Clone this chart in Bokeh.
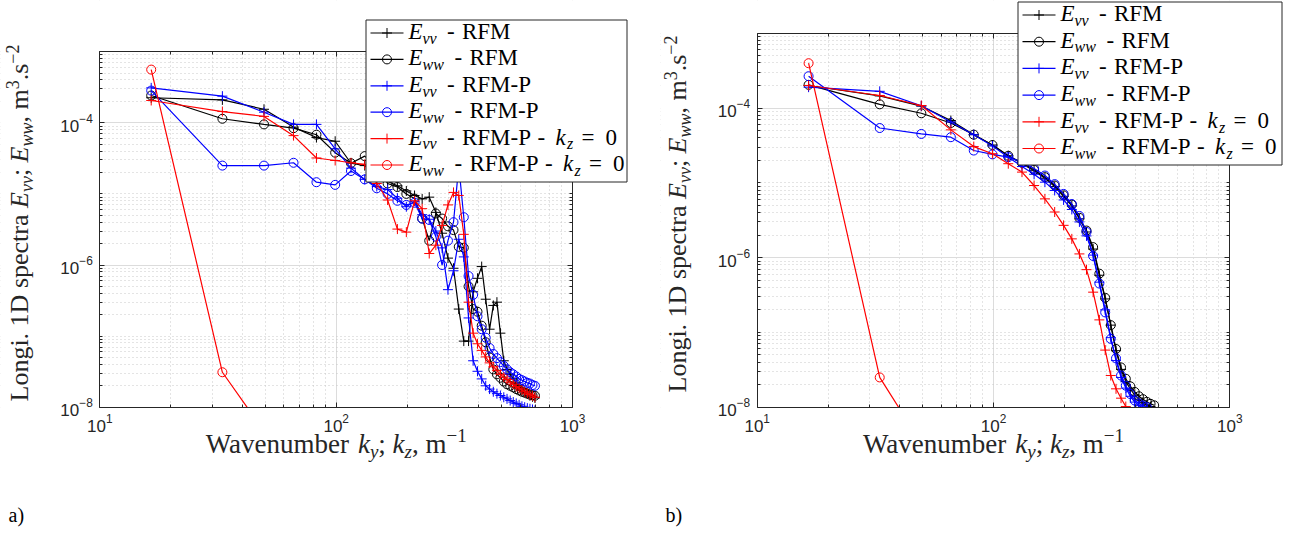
import math
from bokeh.plotting import figure
from bokeh.layouts import row
from bokeh.models import (Range1d, FixedTicker, LogAxis, Label, LinearScale,
                          CustomJSTickFormatter, BoxAnnotation)
from bokeh.embed import file_html
from bokeh.resources import INLINE

# ---------------- data ----------------
# wavenumber grid k (m^-1)
k_a = [16.5, 33.0, 49.5, 66.0, 82.5, 99.0, 115.5, 132.0, 148.5, 165.0, 181.5, 198.0,
       214.5, 231.0, 247.5, 264.0, 280.5, 297.0, 313.5, 330.0, 346.5, 363.0, 379.5,
       396.0, 412.5, 429.0, 445.5, 462.0, 478.5, 495.0, 511.5, 528.0, 544.5, 561.0,
       577.5, 594.0, 610.5, 627.0, 643.5, 660.0, 676.5, 693.0]
k_b = [16.5, 33.0, 49.5, 66.0, 82.5, 99.0, 115.5, 132.0, 148.5, 165.0, 181.5, 198.0,
       214.5, 231.0, 247.5, 264.0, 280.5, 297.0, 313.5, 330.0, 346.5, 363.0, 379.5,
       396.0, 412.5, 429.0, 445.5, 462.0, 478.5]

# panel a)
a_evv_rfm = [2.25e-4, 2.1e-4, 1.55e-4, 8.7e-5, 6.2e-5, 5.5e-5, 2.7e-5, 2.5e-5, 2.0e-5, 1.5e-5,
             1.3e-5, 1.1e-5, 9.5e-6, 8.5e-6, 9.0e-6, 5.5e-6, 2.8e-6, 1.25e-6, 9.0e-7, 2.4e-7,
             8.5e-8, 8.5e-8, 4.2e-7, 6.5e-7, 9.5e-7, 3.3e-7, 1.25e-7, 2.7e-7, 3.0e-7, 1.1e-7,
             4.5e-8, 3.4e-8, 2.9e-8, 2.5e-8, 2.2e-8, 2.0e-8, 1.8e-8, 1.65e-8, 1.55e-8, 1.45e-8,
             1.4e-8, 1.35e-8]
a_eww_rfm = [2.42e-4, 1.14e-4, 9.5e-5, 8.4e-5, 6.8e-5, 3.8e-5, 2.7e-5, 3.4e-5, 2.4e-5, 1.4e-5,
             1.25e-5, 1.0e-5, 8.6e-6, 4.5e-6, 2.2e-6, 5.3e-6, 4.5e-6, 3.5e-6, 3.1e-6, 1.8e-6,
             1.75e-6, 5.0e-7, 2.4e-7, 2.2e-7, 1.4e-7, 8.2e-8, 5.0e-8, 3.4e-8, 2.9e-8, 2.6e-8,
             2.3e-8, 2.1e-8, 2.0e-8, 1.9e-8, 1.8e-8, 1.72e-8, 1.65e-8, 1.6e-8, 1.55e-8, 1.5e-8,
             1.47e-8, 1.45e-8]
a_evv_rfmp = [3.1e-4, 2.37e-4, 1.41e-4, 9.5e-5, 9.5e-5, 4.3e-5, 2.3e-5, 1.6e-5, 1.27e-5, 1.15e-5,
              8.7e-6, 6.6e-6, 7.9e-6, 5.1e-6, 4.4e-6, 3.0e-6, 1.74e-6, 4.5e-7, 8.3e-7, 2.3e-6,
              1.3e-6, 1.8e-7, 4.5e-8, 3.2e-8, 2.5e-8, 2.0e-8, 1.8e-8, 1.65e-8, 1.55e-8, 1.46e-8,
              1.38e-8, 1.31e-8, 1.24e-8, 1.18e-8, 1.13e-8, 1.08e-8, 1.03e-8, 1.0e-8, 0.97e-8,
              0.95e-8, 0.93e-8, 0.9e-8]
a_eww_rfmp = [2.84e-4, 2.5e-5, 2.5e-5, 2.74e-5, 1.46e-5, 1.34e-5, 2.1e-5, 1.6e-5, 1.2e-5, 1.0e-5,
              8.0e-6, 7.0e-6, 7.5e-6, 4.5e-6, 4.3e-6, 2.5e-6, 1.0e-6, 2.2e-6, 4.0e-6, 2.5e-5,
              4.7e-6, 7.0e-7, 3.8e-7, 1.9e-7, 1.25e-7, 9.5e-8, 6.8e-8, 5.6e-8, 4.9e-8, 4.3e-8,
              3.8e-8, 3.4e-8, 3.1e-8, 2.9e-8, 2.7e-8, 2.5e-8, 2.4e-8, 2.3e-8, 2.2e-8, 2.15e-8,
              2.05e-8, 2.0e-8]
a_evv_kz0 = [2.06e-4, 1.44e-4, 1.23e-4, 6.6e-5, 3.2e-5, 2.95e-5, 2.74e-5, 2.6e-5, 1.4e-5, 8.2e-6,
             3.2e-6, 2.9e-6, 8.0e-6, 6.2e-6, 1.45e-6, 1.9e-6, 3.6e-6, 7.0e-6, 1.05e-5, 9.5e-6,
             2.7e-6, 3.0e-7, 1.1e-7, 7.8e-8, 6.3e-8, 5.1e-8, 4.2e-8, 3.7e-8, 3.3e-8, 2.9e-8,
             2.65e-8, 2.45e-8, 2.25e-8, 2.1e-8, 1.95e-8, 1.85e-8, 1.75e-8, 1.65e-8, 1.57e-8,
             1.5e-8, 1.44e-8, 1.38e-8]
a_eww_kz0 = [5.6e-4, 3.1e-8, 4.6e-9, 1.5e-9]

# panel b)
b_evv_rfm = [2.0e-4, 1.45e-4, 1.06e-4, 6.8e-5, 4.4e-5, 3.2e-5, 2.3e-5, 1.8e-5, 1.45e-5, 1.15e-5,
             8.9e-6, 6.6e-6, 4.9e-6, 3.3e-6, 2.2e-6, 1.3e-6, 5.8e-7, 2.8e-7, 1.25e-7, 5.7e-8,
             3.2e-8, 2.2e-8, 1.75e-8, 1.45e-8, 1.28e-8, 1.16e-8, 1.08e-8, 1.02e-8]
b_eww_rfm = [2.04e-4, 1.12e-4, 8.5e-5, 6.3e-5, 4.4e-5, 3.2e-5, 2.3e-5, 1.85e-5, 1.49e-5, 1.19e-5,
             9.2e-6, 6.8e-6, 5.1e-6, 3.4e-6, 2.3e-6, 1.38e-6, 6.1e-7, 2.9e-7, 1.25e-7, 6.0e-8,
             3.4e-8, 2.4e-8, 1.9e-8, 1.6e-8, 1.4e-8, 1.28e-8, 1.18e-8, 1.11e-8, 1.06e-8]
b_evv_rfmp = [1.9e-4, 1.67e-4, 1.07e-4, 6.5e-5, 4.4e-5, 3.1e-5, 2.2e-5, 1.65e-5, 1.3e-5, 1.02e-5,
              7.9e-6, 5.9e-6, 4.4e-6, 3.0e-6, 1.95e-6, 1.08e-6, 4.7e-7, 2.0e-7, 8.5e-8, 4.2e-8,
              2.5e-8, 1.8e-8, 1.4e-8, 1.17e-8, 1.05e-8, 0.98e-8, 0.95e-8]
b_eww_rfmp = [2.66e-4, 5.4e-5, 4.5e-5, 4.07e-5, 2.7e-5, 2.4e-5, 2.2e-5, 1.9e-5, 1.55e-5, 1.25e-5,
              9.6e-6, 7.1e-6, 5.2e-6, 3.6e-6, 2.2e-6, 1.05e-6, 4.5e-7, 1.85e-7, 8.2e-8, 4.5e-8,
              2.65e-8, 1.94e-8, 1.5e-8, 1.23e-8, 1.12e-8, 1.05e-8, 1.0e-8]
b_evv_kz0 = [2.0e-4, 1.47e-4, 1.08e-4, 5.1e-5, 3.05e-5, 2.45e-5, 1.8e-5, 1.39e-5, 9.2e-6, 6.1e-6,
             4.07e-6, 2.7e-6, 1.78e-6, 1.12e-6, 6.9e-7, 3.45e-7, 1.47e-7, 5.8e-8, 2.65e-8,
             1.76e-8, 1.32e-8, 1.02e-8]
b_eww_kz0 = [3.97e-4, 2.5e-8, 3.3e-9, 1.0e-9]

x_major = [10, 100, 1000]
x_minor = [20, 30, 40, 50, 60, 70, 80, 90, 200, 300, 400, 500, 600, 700, 800, 900]
y_major = [1e-8, 1e-6, 1e-4]
y_minor = [m * d for d in (1e-8, 1e-7, 1e-6, 1e-5, 1e-4) for m in range(2, 10)] + [1e-7, 1e-5, 1e-3]

series_style = [("black", "cross"), ("black", "circle"), ("#0000ff", "cross"),
                ("#0000ff", "circle"), ("#ff0000", "cross"), ("#ff0000", "circle")]
legend_entries = [("vv", "RFM", False), ("ww", "RFM", False), ("vv", "RFM-P", False),
                  ("ww", "RFM-P", False), ("vv", "RFM-P", True), ("ww", "RFM-P", True)]

# ---------------- styling helpers ----------------
AX = "#262626"
SERIF = "Liberation Serif"
SANS = "Liberation Sans"
X_LO, X_HI, Y_LO, Y_HI = 10.0, 1000.0, 1e-8, 1e-3
BASE_SHIFT = 0.4   # empirical offset of Bokeh's alphabetic baseline, in font sizes

W_REG = {'L': 611, 'o': 500, 'n': 500, 'g': 500, 'i': 278, '.': 250, ' ': 250, '1': 500,
         'D': 722, 's': 389, 'p': 500, 'e': 444, 'c': 444, 't': 278, 'r': 333, 'a': 444,
         ';': 278, ',': 250, 'm': 778, '3': 500, '2': 500, '\u2212': 564, 'W': 944, 'v': 500,
         'u': 500, 'b': 500, '-': 333}
W_IT = {'E': 611, 'v': 444, 'w': 667, 'k': 444, 'y': 444, 'z': 389}


def tw(s, italic, fs):
    d = W_IT if italic else W_REG
    return sum(d.get(c, 500) for c in s) / 1000.0 * fs


class Panel:
    def __init__(self, W, H, bl, br, bt, bb):
        self.W, self.H = W, H
        dx = (br - bl) / 2.0
        dy = (bb - bt) / 5.0
        xr = Range1d(10 ** (1 - bl / dx), 10 ** (1 + (W - bl) / dx))
        yr = Range1d(10 ** (-8 - (H - bb) / dy), 10 ** (-8 + bb / dy))
        p = figure(width=W, height=H, x_axis_type="log", y_axis_type="log",
                   x_range=xr, y_range=yr, output_backend="svg", toolbar_location=None,
                   min_border_left=0, min_border_right=0, min_border_top=0, min_border_bottom=0)
        p.extra_x_ranges = {"px": Range1d(0, W)}
        p.extra_y_ranges = {"px": Range1d(H, 0)}
        p.extra_x_scales = {"px": LinearScale()}
        p.extra_y_scales = {"px": LinearScale()}
        p.background_fill_color = "white"
        p.border_fill_color = "white"
        p.outline_line_color = None
        self.xt = FixedTicker(ticks=x_major, minor_ticks=x_minor)
        self.yt = FixedTicker(ticks=y_major, minor_ticks=y_minor)
        p.xaxis.ticker = self.xt
        p.yaxis.ticker = self.yt
        p.xaxis.fixed_location = Y_LO
        p.yaxis.fixed_location = X_LO
        p.xaxis.bounds = (X_LO, X_HI)
        p.yaxis.bounds = (Y_LO, Y_HI)
        for ax in (p.xaxis[0], p.yaxis[0]):
            self._style_axis(ax)
            ax.major_label_text_font = SANS
            ax.major_label_text_font_size = "17px"
            ax.major_label_text_color = AX
        p.xaxis.major_label_standoff = 7
        p.yaxis.major_label_standoff = 7
        top = LogAxis(ticker=self.xt, formatter=CustomJSTickFormatter(code="return ''"),
                      fixed_location=Y_HI, bounds=(X_LO, X_HI), major_label_text_font_size="1px")
        right = LogAxis(ticker=self.yt, formatter=CustomJSTickFormatter(code="return ''"),
                        fixed_location=X_HI, bounds=(Y_LO, Y_HI), major_label_text_font_size="1px")
        self._style_axis(top)
        self._style_axis(right)
        p.add_layout(top, "above")
        p.add_layout(right, "right")
        for g in (p.xgrid[0], p.ygrid[0]):
            g.grid_line_color = "#dcdcdc"
            g.grid_line_width = 1
            g.minor_grid_line_color = "#c8c8c8"
            g.minor_grid_line_dash = "1 3"
            g.minor_grid_line_width = 1
        self.p = p

    @staticmethod
    def _style_axis(ax):
        ax.axis_line_color = AX
        ax.axis_line_width = 1
        ax.major_tick_line_color = AX
        ax.minor_tick_line_color = AX
        ax.major_tick_in = 5
        ax.major_tick_out = 0
        ax.minor_tick_in = 3
        ax.minor_tick_out = 0

    def lab(self, X, Y, text, size, italic=False, angle=0.0, color=AX):
        # X, Y: canvas pixels (origin top-left), Y (or X when rotated) = wanted baseline
        if angle == 0.0:
            Y = Y - BASE_SHIFT * size
        else:
            X = X - BASE_SHIFT * size
        self.p.add_layout(Label(x=X, y=self.H - Y, x_units="screen", y_units="screen",
                                text=text, text_font=SERIF, text_font_size=f"{size}px",
                                text_font_style="italic" if italic else "normal",
                                text_color=color, text_align="left",
                                text_baseline="alphabetic", angle=angle, level="overlay"))

    def hlabel(self, Xc, Y, pieces):
        total = sum(tw(t, it, fs) for t, it, fs, sh in pieces)
        x = Xc - total / 2.0
        for t, it, fs, sh in pieces:
            self.lab(x, Y + sh, t, fs, it)
            x += tw(t, it, fs)

    def vlabel(self, X, Yc, pieces):
        total = sum(tw(t, it, fs) for t, it, fs, sh in pieces)
        y = Yc + total / 2.0
        for t, it, fs, sh in pieces:
            self.lab(X + sh, y, t, fs, it, angle=math.pi / 2)
            y -= tw(t, it, fs)

    def series(self, k, *all_vals):
        p = self.p
        for vals, (col, mk) in zip(all_vals, series_style):
            kk = k[:len(vals)]
            p.line(kk, vals, line_color=col, line_width=1.2)
            p.scatter(kk, vals, marker=mk, size=10 if mk == "cross" else 9,
                      line_color=col, fill_color=None, line_width=1)
        # white masks outside the axes box (clip the curves at the box edges)
        for kw in ({"top": Y_LO}, {"bottom": Y_HI}, {"right": X_LO}, {"left": X_HI}):
            p.add_layout(BoxAnnotation(fill_color="white", fill_alpha=1.0, line_color=None,
                                       level="glyph", **kw))

    def legend(self, bx, by, bw, bh, step):
        p = self.p
        px = dict(x_range_name="px", y_range_name="px", level="annotation")
        p.quad(left=[bx + 0.5], right=[bx + bw + 0.5], top=[by + 0.5], bottom=[by + bh + 0.5],
               fill_color="white", line_color=AX, line_width=1, **px)
        for i, ((col, mk), (sub, name, kz)) in enumerate(zip(series_style, legend_entries)):
            cy = by + 13.5 + step * i
            p.line([bx + 5, bx + 38], [cy, cy], line_color=col, line_width=1.2, **px)
            p.scatter([bx + 21.5], [cy], marker=mk, size=10 if mk == "cross" else 9,
                      line_color=col, fill_color=None, line_width=1, **px)
            base = cy + 7.6
            sh = 0 if sub == "vv" else 7.5
            c = "black"
            self.lab(bx + 43, base, "E", 23, True, color=c)
            self.lab(bx + 57, base + 4, sub, 16, True, color=c)
            self.lab(bx + 81.5 + sh, base, "-", 23, color=c)
            self.lab(bx + 96.4 + sh, base, name, 23, color=c)
            if kz:
                self.lab(bx + 172 + sh, base, "-", 23, color=c)
                self.lab(bx + 190 + sh, base, "k", 23, True, color=c)
                self.lab(bx + 201.5 + sh, base + 4, "z", 16, True, color=c)
                self.lab(bx + 216 + sh, base, "=", 23, color=c)
                self.lab(bx + 240 + sh, base, "0", 23, color=c)


FX, FXS = 27, 19
FY, FYS = 26, 18
x_pieces = [("Wavenumber ", False, FX, 0), ("k", True, FX, 0), ("y", True, FXS, 5),
            ("; ", False, FX, 0), ("k", True, FX, 0), ("z", True, FXS, 5),
            (", m", False, FX, 0), ("\u22121", False, FXS, -11)]
y_pieces = [("Longi. 1D spectra ", False, FY, 0), ("E", True, FY, 0), ("vv", True, FYS, 5),
            ("; ", False, FY, 0), ("E", True, FY, 0), ("ww", True, FYS, 5),
            (", m", False, FY, 0), ("3", False, FYS, -10), (".s", False, FY, 0),
            ("\u22122", False, FYS, -10)]

# ---------------- panel a ----------------
A = Panel(660, 530, 99.3, 572.1, 51.2, 406.7)
A.series(k_a, a_evv_rfm, a_eww_rfm, a_evv_rfmp, a_eww_rfmp, a_evv_kz0, a_eww_kz0)
A.legend(365, 19, 261, 162, 26.4)
A.hlabel(335.7, 454, x_pieces)
A.vlabel(29, 222.5, y_pieces)
A.lab(8, 522, "a)", 20, color="black")

# ---------------- panel b ----------------
B = Panel(640, 530, 96.7, 569.3, 32.7, 406.7)
B.series(k_b, b_evv_rfm, b_eww_rfm, b_evv_rfmp, b_eww_rfmp, b_evv_kz0, b_eww_kz0)
B.legend(357, 1, 264, 163, 26.7)
B.hlabel(333, 454, x_pieces)
B.vlabel(27, 213.5, y_pieces)
B.lab(5, 522, "b)", 20, color="black")

layout = row(A.p, B.p)
open("out.html", "w").write(file_html(layout, INLINE))
